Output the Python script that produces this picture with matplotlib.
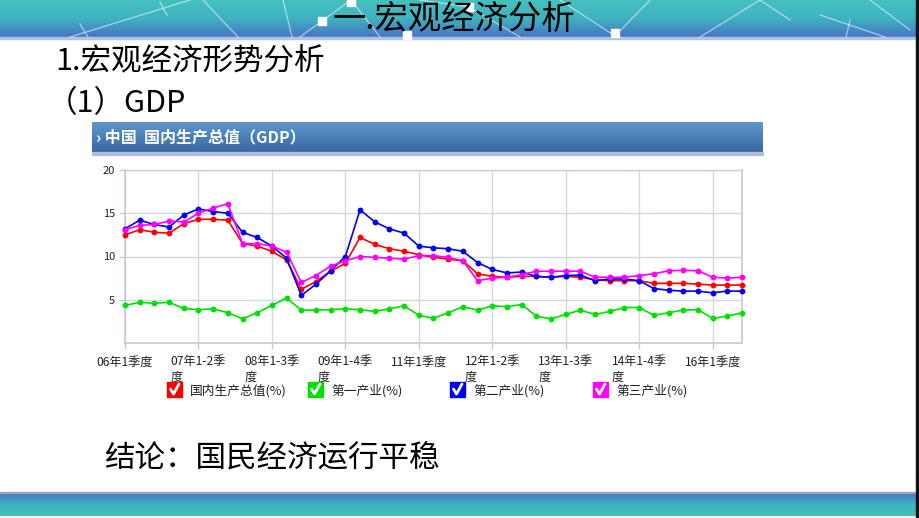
import matplotlib
matplotlib.use("Agg")
import matplotlib.pyplot as plt
import numpy as np
from matplotlib.patches import Rectangle
from matplotlib.colors import LinearSegmentedColormap

plt.rcParams['font.family'] = ['Noto Sans CJK SC', 'DejaVu Sans']

# quarterly cumulative growth, 06Q1 .. 16Q3
tick_labels = ["06年1季度", "07年1-2季度", "08年1-3季度", "09年1-4季度", "11年1季度",
               "12年1-2季度", "13年1-3季度", "14年1-4季度", "16年1季度"]
gdp = [12.5, 13.1, 12.8, 12.7, 13.8, 14.3, 14.3, 14.2, 11.5, 11.2, 10.6, 9.6,
       6.2, 7.1, 8.3, 9.2, 12.2, 11.4, 10.9, 10.6, 10.2, 9.9, 9.7, 9.5,
       8.0, 7.7, 7.6, 7.7, 7.7, 7.6, 7.7, 7.6, 7.3, 7.2, 7.2, 7.2,
       6.9, 6.9, 6.9, 6.8, 6.7, 6.7, 6.7]
primary = [4.35, 4.7, 4.6, 4.7, 4.0, 3.85, 3.95, 3.5, 2.8, 3.5, 4.35, 5.2,
           3.8, 3.8, 3.85, 3.95, 3.85, 3.65, 3.95, 4.3, 3.2, 2.85, 3.5, 4.2,
           3.8, 4.3, 4.2, 4.45, 3.1, 2.8, 3.3, 3.8, 3.3, 3.65, 4.1, 4.1,
           3.2, 3.5, 3.8, 3.85, 2.85, 3.1, 3.5]
secondary = [13.2, 14.2, 13.7, 13.4, 14.8, 15.5, 15.2, 15.0, 12.8, 12.2, 11.2, 9.8,
             5.5, 6.8, 8.35, 10.0, 15.4, 14.0, 13.2, 12.7, 11.2, 11.0, 10.9, 10.6,
             9.3, 8.5, 8.1, 8.2, 7.7, 7.6, 7.8, 7.85, 7.2, 7.4, 7.4, 7.2,
             6.3, 6.1, 6.0, 6.0, 5.8, 6.0, 6.0]
tertiary = [13.1, 13.6, 13.7, 14.1, 14.0, 15.0, 15.6, 16.1, 11.5, 11.5, 11.2, 10.5,
            7.0, 7.8, 8.9, 9.5, 10.0, 9.9, 9.8, 9.7, 10.1, 10.1, 9.9, 9.5,
            7.2, 7.5, 7.6, 7.9, 8.3, 8.3, 8.3, 8.3, 7.6, 7.6, 7.6, 7.8,
            8.0, 8.35, 8.4, 8.35, 7.6, 7.5, 7.6]
series_names = ["国内生产总值(%)", "第一产业(%)", "第二产业(%)", "第三产业(%)"]
series_colors = ["#ff0000", "#00e000", "#0000f0", "#ff00ff"]

W, H = 920, 518
fig = plt.figure(figsize=(W / 100, H / 100), dpi=100)

# slide background drawn in pixel coordinates
bg = fig.add_axes([0, 0, 1, 1])
bg.set_xlim(0, W)
bg.set_ylim(H, 0)
bg.axis("off")

teal_blue = LinearSegmentedColormap.from_list("tb", ["#46c0be", "#3fb3c0", "#4a74c6"])
grad = np.linspace(0, 1, 64).reshape(-1, 1)
bg.imshow(grad, cmap=teal_blue, extent=(0, W, 37, 0), aspect="auto", zorder=0)
bg.imshow(grad[::-1], cmap=teal_blue, extent=(0, W, 516, 493), aspect="auto", zorder=0)
bg.add_patch(Rectangle((0, 37), W, 1.5, color="#a9c6e4", zorder=1))
bg.add_patch(Rectangle((0, 491.5), W, 1.5, color="#9aa8b8", zorder=1))
bg.add_patch(Rectangle((916, 0), 4, H, color="#111111", zorder=3))

# network lines on the banner
net = [((70, 37), (190, 0)), ((80, 24), (88, 37)), ((160, 2), (167, 15)),
       ((203, 0), (238, 37)), ((283, 0), (292, 37)), ((300, 37), (322, 21)),
       ((322, 21), (351, 0)), ((351, 0), (380, 37)), ((420, 0), (469, 7)),
       ((469, 7), (520, 37)), ((560, 0), (615, 36)), ((615, 36), (650, 0)),
       ((700, 37), (760, 0)), ((760, 0), (790, 20)), ((820, 15), (885, 37)),
       ((850, 20), (846, 37)), ((870, 0), (910, 30))]
for p, q in net:
    bg.plot([p[0], q[0]], [p[1], q[1]], color="white", alpha=0.55, lw=0.9, zorder=2)
for sx, sy in [(322, 21), (351, 2), (469, 7), (615, 33), (407, 35)]:
    bg.add_patch(Rectangle((sx - 4, sy - 4), 8, 8, color="white", zorder=2))

# chart header bar
hdr = LinearSegmentedColormap.from_list("hdr", ["#5f97cc", "#4b7fb9", "#3b67a0"])
bg.imshow(grad, cmap=hdr, extent=(92, 763, 152, 122), aspect="auto", zorder=1)
bg.add_patch(Rectangle((92, 152), 671, 2.5, color="#aebfd6", zorder=1))

fig.text(454 / W, 1 - 20 / H, "一.宏观经济分析", fontsize=24, ha="center", va="center",
         color="black", zorder=5)
fig.text(55 / W, 1 - 61 / H, "1.宏观经济形势分析", fontsize=22, ha="left", va="center")
fig.text(47 / W, 1 - 104 / H, "（1）GDP", fontsize=22, ha="left", va="center")
fig.text(96 / W, 1 - 137 / H, "› 中国  国内生产总值（GDP）", fontsize=11.5, ha="left",
         va="center", color="white", fontweight="bold")
fig.text(104 / W, 1 - 458 / H, "结论：国民经济运行平稳", fontsize=22, ha="left", va="center")

# the line chart
ax = fig.add_axes([125 / W, 1 - 343 / H, (742 - 125) / W, (343 - 170) / H])
x = np.arange(len(gdp))
for vals, col in zip([gdp, primary, secondary, tertiary], series_colors):
    ax.plot(x, vals, color=col, lw=1.2, marker="o", markersize=4.2,
            markeredgewidth=0, clip_on=False, zorder=3)

ax.set_xlim(0, len(gdp) - 1)
ax.set_ylim(0, 20)
ax.set_yticks([5, 10, 15, 20])
ax.set_xticks(np.arange(0, len(gdp), 5))
wrapped = [t if len(t) <= 7 else t[:7] + "\n" + t[7:] for t in tick_labels]
ax.set_xticklabels(wrapped)
for lab in ax.get_xticklabels():
    lab.set_multialignment("left")
    lab.set_verticalalignment("top")
ax.tick_params(axis="both", colors="#c3cbd8", labelcolor="#222222", length=4,
               width=1, labelsize=8.7)
ax.tick_params(axis="x", pad=5)
ax.tick_params(axis="y", labelsize=8, pad=3)
ax.grid(True, color="#d3d9e3", lw=1)
ax.set_axisbelow(True)
for side in ["left", "bottom", "right", "top"]:
    ax.spines[side].set_color("#c8cfdb")
    ax.spines[side].set_linewidth(1.3)
ax.spines["top"].set_linewidth(1)

# legend with check boxes
legend_x = [167, 308, 450, 593]
for lx, name, col in zip(legend_x, series_names, series_colors):
    bg.add_patch(Rectangle((lx, 382), 15, 15, color=col, zorder=4))
    bg.plot([lx + 3.5, lx + 6.5, lx + 12], [389, 394, 384], color="white",
            lw=2, zorder=5, solid_capstyle="round")
    fig.text((lx + 23) / W, 1 - 391 / H, name, fontsize=9.2, ha="left", va="center",
             color="#222222")

fig.savefig("out.png", dpi=100)
